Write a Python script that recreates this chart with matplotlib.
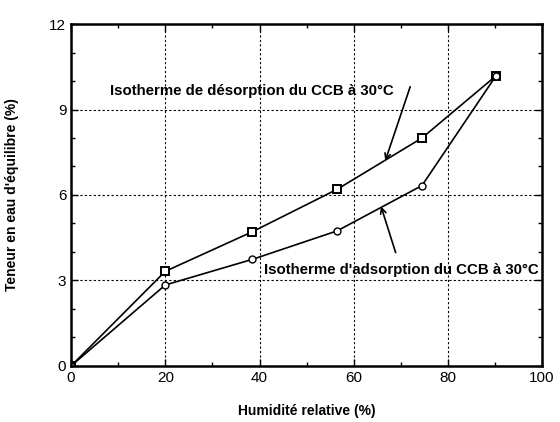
import numpy as np
import matplotlib.pyplot as plt
from matplotlib.ticker import MultipleLocator

plt.rcParams['font.family'] = ['Liberation Sans', 'DejaVu Sans']

# humidité relative (%)
hr = [0, 20, 38.5, 56.5, 74.5, 90.2]
# teneur en eau d'équilibre (%)
desorption = [0, 3.32, 4.71, 6.2, 8.0, 10.18]
adsorption = [0, 2.84, 3.74, 4.74, 6.33, 10.18]

fig = plt.figure(figsize=(5.6, 4.22), dpi=100)
ax = fig.add_axes([0.127, 0.133, 0.841, 0.81])

ax.plot(hr, desorption, color='black', linewidth=1.2, marker='s', markersize=6,
        markerfacecolor='white', markeredgecolor='black', markeredgewidth=1.4)
ax.plot(hr, adsorption, color='black', linewidth=1.2, marker='o', markersize=5,
        markerfacecolor='white', markeredgecolor='black', markeredgewidth=1.0)

ax.set_xlim(0, 100)
ax.set_ylim(0, 12)
ax.xaxis.set_major_locator(MultipleLocator(20))
ax.xaxis.set_minor_locator(MultipleLocator(10))
ax.yaxis.set_major_locator(MultipleLocator(3))
ax.yaxis.set_minor_locator(MultipleLocator(1))
ax.tick_params(which='both', direction='in', top=True, right=True, labelsize=11)
ax.tick_params(which='major', length=5, width=1)
ax.tick_params(which='minor', length=3, width=1)
ax.grid(True, which='major', linestyle=(0, (2, 2)), color='black', linewidth=0.8)
for s in ax.spines.values():
    s.set_linewidth(1.8)

ax.set_xlabel('Humidité relative (%)', fontsize=10, fontweight='bold', labelpad=14)
ax.set_ylabel("Teneur en eau d'équilibre (%)", fontsize=10, fontweight='bold', labelpad=22)

# annotations
ax.text(68.4, 9.65, 'Isotherme de désorption du CCB à 30°C', fontsize=10.8,
        fontweight='bold', ha='right', va='center')
ax.annotate('', xy=(66.7, 7.2), xytext=(72, 9.8),
            arrowprops=dict(arrowstyle='->', color='black', lw=1.2, shrinkA=0, shrinkB=0))
ax.text(99.2, 3.37, "Isotherme d'adsorption du CCB à 30°C", fontsize=10.8,
        fontweight='bold', ha='right', va='center')
ax.annotate('', xy=(65.8, 5.6), xytext=(68.9, 3.98),
            arrowprops=dict(arrowstyle='->', color='black', lw=1.2, shrinkA=0, shrinkB=0))

plt.savefig('out.png', dpi=100)
